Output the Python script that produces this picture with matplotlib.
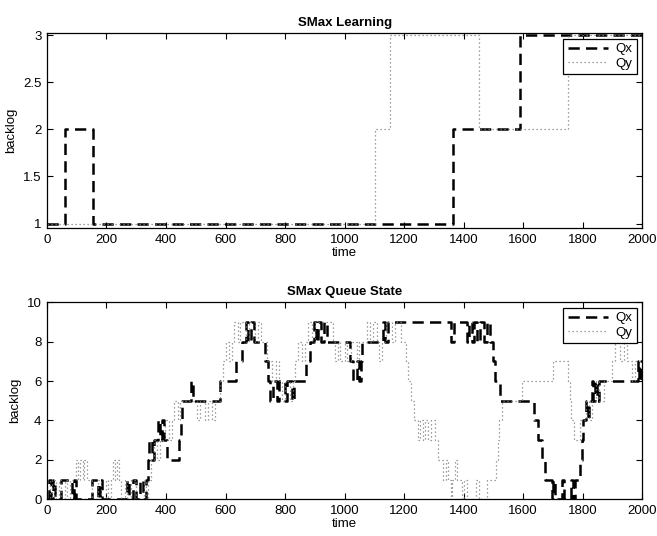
import matplotlib
matplotlib.use('Agg')
import matplotlib.pyplot as plt
from matplotlib.ticker import FuncFormatter, MultipleLocator

plt.rcParams['font.family'] = ['Liberation Sans', 'DejaVu Sans']
plt.rcParams['font.size'] = 9.5

# learning curves: change times and the value taken from that time on
learn_qx_t = [0, 59, 153, 1363, 1590, 2000]
learn_qx_v = [1, 2, 1, 2, 3, 3]
learn_qy_t = [0, 1101, 1154, 1450, 1750, 2000]
learn_qy_v = [1, 2, 3, 2, 3, 3]

# queue backlog traces (step changes)
queue_qx_t = [0, 8, 14, 20, 26, 48, 84, 90, 96, 150, 172, 178, 186, 268, 276,
              290, 298, 314, 322, 332, 338, 344, 352, 358, 372, 380, 386, 392,
              402, 445, 450, 455, 485, 492, 582, 636, 655, 668, 674, 686, 696,
              733, 742, 750, 758, 772, 780, 800, 808, 822, 830, 870, 884, 896,
              904, 912, 922, 930, 940, 1018, 1028, 1040, 1048, 1054, 1060,
              1128, 1136, 1146, 1358, 1366, 1410, 1418, 1428, 1436, 1446,
              1454, 1470, 1480, 1490, 1498, 1505, 1522, 1635, 1650, 1662,
              1675, 1696, 1700, 1706, 1730, 1736, 1762, 1768, 1775, 1792,
              1797, 1800, 1812, 1818, 1822, 1830, 1835, 1842, 1848, 1856,
              1985, 1990, 1995, 2000]
queue_qx_v = [0, 1, 0, 1, 0, 1, 0, 1, 0, 1, 0, 1, 0, 1, 0,
              1, 0, 1, 0, 1, 2, 3, 2, 3, 4, 3, 4, 3,
              2, 3, 4, 5, 6, 5, 6, 7, 8, 9, 8, 9, 8,
              7, 6, 5, 6, 5, 6, 5, 6, 5, 6, 7, 8, 9,
              8, 9, 8, 9, 8, 7, 6, 7, 6, 7, 8,
              9, 8, 9, 8, 9, 8, 9, 8, 9, 8,
              9, 8, 9, 8, 7, 6, 5, 4, 3, 2,
              1, 0, 1, 0, 1, 0, 1, 0, 1, 2,
              3, 4, 5, 4, 5, 6, 5, 6, 5, 6,
              7, 6, 7, 7]

queue_qy_t = [0, 10, 16, 24, 30, 40, 46, 60, 68, 78, 96, 104, 112, 120, 126,
              134, 150, 172, 180, 200, 206, 214, 222, 228, 234, 242, 250, 262,
              270, 284, 300, 326, 334, 340, 348, 360, 370, 380, 398, 410, 420,
              428, 440, 446, 505, 515, 530, 540, 556, 566, 580, 590, 600, 612,
              620, 630, 642, 650, 670, 678, 700, 710, 720, 740, 755, 770, 778,
              788, 800, 815, 825, 834, 845, 856, 866, 876, 890, 900, 960, 968,
              978, 986, 1000, 1008, 1020, 1040, 1050, 1075, 1085, 1095, 1110,
              1116, 1124, 1140, 1160, 1170, 1190, 1205, 1212, 1222, 1232,
              1245, 1252, 1262, 1270, 1280, 1290, 1304, 1314, 1332, 1340,
              1348, 1356, 1362, 1370, 1378, 1396, 1400, 1410, 1440, 1450,
              1480, 1510, 1515, 1520, 1528, 1595, 1700, 1752, 1756, 1760,
              1772, 1790, 1810, 1820, 1830, 1845, 1855, 1870, 1900, 1910,
              1925, 1940, 1950, 1965, 1975, 2000]
queue_qy_v = [0, 1, 0, 1, 0, 1, 0, 1, 0, 1, 2, 1, 2, 1, 2,
              1, 0, 1, 0, 1, 0, 1, 2, 1, 2, 1, 0, 1,
              0, 1, 0, 1, 0, 1, 2, 3, 2, 3, 4, 3, 4,
              5, 4, 5, 4, 5, 4, 5, 4, 5, 6, 7, 8, 7,
              8, 9, 8, 9, 8, 9, 8, 9, 8, 7, 6, 7, 6,
              5, 6, 5, 6, 7, 8, 7, 8, 9, 8, 9, 8, 7,
              8, 7, 8, 7, 8, 7, 8, 9, 8, 9, 8,
              7, 8, 9, 8, 9, 8, 7, 6, 5, 4,
              3, 4, 3, 4, 3, 4, 3, 2, 1, 2,
              1, 0, 1, 2, 1, 0, 1, 0, 1, 0,
              1, 2, 3, 4, 5, 6, 7, 6, 5, 4,
              3, 4, 5, 4, 5, 6, 5, 6, 7, 8,
              7, 8, 7, 6, 7, 7]


def style_axes(ax, title, ylim, ystep):
    ax.set_xlim(0, 2000)
    ax.set_ylim(*ylim)
    ax.xaxis.set_major_locator(MultipleLocator(200))
    ax.yaxis.set_major_locator(MultipleLocator(ystep))
    ax.yaxis.set_major_formatter(FuncFormatter(lambda v, p: '%g' % v))
    ax.tick_params(direction='in', top=True, right=True, length=4,
                   width=0.8, labelsize=9.5, pad=4)
    for s in ax.spines.values():
        s.set_linewidth(0.9)
    ax.set_title(title, fontsize=9.5, fontweight='bold', pad=5)
    ax.set_xlabel('time', fontsize=9.5, labelpad=1)
    ax.set_ylabel('backlog', fontsize=9.5, labelpad=4)
    leg = ax.legend(loc='upper right', fontsize=9.5, fancybox=False,
                    framealpha=1, edgecolor='black', borderpad=0.35,
                    handlelength=3.0, handletextpad=0.6, labelspacing=0.15,
                    borderaxespad=0.4)
    leg.get_frame().set_linewidth(0.9)


def plot_pair(ax, tx, vx, ty, vy):
    ax.plot(tx, vx, drawstyle='steps-post', color='black', lw=1.8,
            linestyle=(0, (4.5, 2.5)), label='Qx')
    ax.plot(ty, vy, drawstyle='steps-post', color='0.5', lw=0.9,
            linestyle=(0, (1, 2.2)), label='Qy')


fig = plt.figure(figsize=(6.57, 5.36), dpi=100)
ax1 = fig.add_axes([0.0715, 0.574, 0.906, 0.364])
ax2 = fig.add_axes([0.0715, 0.0685, 0.906, 0.3675])

plot_pair(ax1, learn_qx_t, learn_qx_v, learn_qy_t, learn_qy_v)
style_axes(ax1, 'SMax Learning', (0.95, 3.02), 0.5)

plot_pair(ax2, queue_qx_t, queue_qx_v, queue_qy_t, queue_qy_v)
style_axes(ax2, 'SMax Queue State', (0, 10), 2)

fig.savefig('out.png', dpi=100)
